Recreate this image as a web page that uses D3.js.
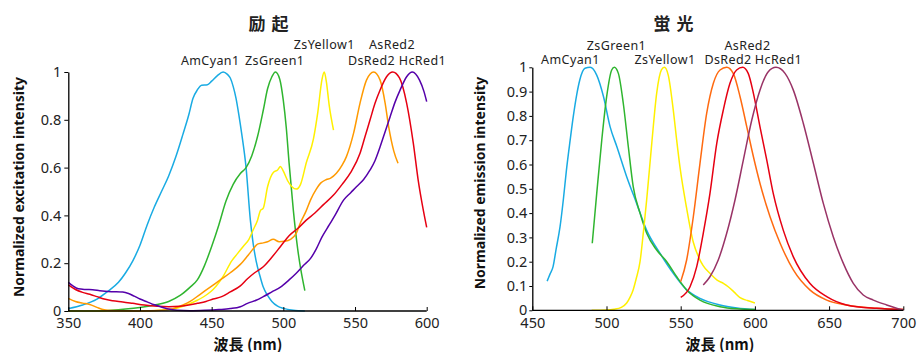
<!DOCTYPE html>
<html>
<head>
<meta charset="utf-8">
<script src="https://cdn.jsdelivr.net/npm/d3@7"></script>
<style>
html,body{margin:0;padding:0;background:#fff;}
svg{display:block;}
text{font-family:"Noto Sans","Open Sans",sans-serif;}
.cjk{font-family:"Noto Sans CJK JP","Noto Sans",sans-serif;}
</style>
</head>
<body>
<svg id="chart" width="923" height="352"></svg>
<script>
// ---------- Data ----------
const proteins = ["AmCyan1","ZsGreen1","ZsYellow1","DsRed2","AsRed2","HcRed1"];
const excitationColors = ["#19ABE3","#2FB52F","#FFF000","#FF9A00","#E60012","#5500AA"];
const emissionColors   = ["#19ABE3","#2FB52F","#FFF000","#FF6A10","#E60012","#993366"];

// Excitation spectra: [wavelength nm, normalized intensity]
const exAmCyan1 = [[350,0.01],[360,0.025],[370,0.05],[377,0.08],[385,0.12],[390,0.16],[395,0.21],[400,0.275],[405,0.36],[410,0.435],[415,0.50],[420,0.565],[425,0.645],[430,0.74],[434,0.82],[437,0.89],[440,0.925],[443,0.945],[447,0.947],[450,0.962],[454,0.985],[458,1.0],[461,0.99],[463,0.975],[465,0.94],[467,0.89],[469,0.82],[471,0.74],[474,0.60],[477,0.38],[479,0.28],[481,0.21],[484,0.14],[486,0.10],[489,0.065],[492,0.04],[496,0.02],[500,0.011],[507,0.003],[515,0.0]];
const exZsGreen1 = [[350,0.0],[370,0.0],[380,0.003],[390,0.008],[400,0.015],[410,0.025],[420,0.04],[428,0.065],[435,0.10],[440,0.13],[445,0.19],[450,0.27],[455,0.36],[460,0.46],[465,0.53],[470,0.575],[474,0.60],[478,0.65],[482,0.73],[486,0.84],[489,0.93],[492,0.98],[494.5,1.0],[497.5,0.97],[500,0.88],[502,0.77],[504,0.62],[507,0.42],[510,0.26],[512,0.18],[515,0.085]];
const exZsYellow1 = [[350,0.0],[380,0.0],[400,0.0],[420,0.005],[430,0.02],[440,0.045],[447,0.07],[451,0.09],[458,0.145],[464,0.21],[468,0.24],[472,0.27],[476,0.30],[479,0.34],[482,0.38],[484,0.42],[486,0.43],[489,0.52],[493,0.58],[496,0.59],[498,0.605],[500,0.585],[503,0.545],[506,0.52],[509,0.51],[512,0.53],[516,0.62],[521,0.72],[524,0.83],[527,0.97],[528.5,1.0],[530,0.96],[532,0.86],[535,0.757]];
const exDsRed2 = [[350,0.053],[355,0.04],[360,0.033],[365,0.027],[370,0.015],[375,0.005],[380,0.002],[400,0.0],[415,0.003],[423,0.01],[430,0.025],[435,0.04],[442,0.07],[449,0.10],[456,0.13],[463,0.16],[470,0.195],[475,0.23],[479,0.26],[482,0.28],[486,0.285],[489,0.29],[493,0.30],[497,0.29],[501,0.292],[505,0.30],[509,0.325],[512,0.37],[516,0.42],[519,0.465],[523,0.51],[526,0.535],[530,0.55],[533,0.556],[537,0.576],[541,0.61],[544,0.646],[549,0.744],[553.5,0.87],[558,0.966],[563,1.0],[567.5,0.966],[571,0.87],[573.5,0.77],[577,0.67],[580,0.618]];
const exAsRed2 = [[350,0.109],[355,0.09],[360,0.078],[365,0.07],[370,0.06],[375,0.05],[381,0.043],[388,0.038],[395,0.032],[403,0.025],[412,0.02],[420,0.018],[428,0.02],[435,0.026],[440,0.032],[446,0.04],[451,0.05],[457,0.06],[463,0.08],[470,0.105],[475,0.135],[480,0.16],[486,0.185],[492,0.225],[498,0.27],[504,0.315],[510,0.345],[516,0.38],[522,0.41],[528,0.445],[535,0.485],[541,0.53],[547,0.58],[553.5,0.66],[557,0.73],[560.5,0.80],[564,0.87],[567.5,0.925],[572,0.98],[576.3,1.0],[581,0.975],[586,0.87],[590.7,0.70],[594,0.55],[597.7,0.42],[600,0.35]];
const exHcRed1 = [[350,0.12],[353,0.106],[357,0.093],[362,0.09],[367,0.089],[372,0.085],[380,0.081],[388,0.079],[392,0.073],[396,0.062],[400,0.05],[405,0.038],[410,0.026],[416,0.015],[420,0.008],[426,0.003],[435,0.001],[446,0.003],[455,0.006],[463,0.01],[470,0.018],[475,0.032],[481,0.045],[486,0.06],[492,0.08],[498,0.10],[504,0.13],[509,0.158],[514,0.19],[519,0.22],[523,0.26],[527,0.31],[532,0.36],[536,0.40],[542,0.464],[547,0.495],[551,0.52],[556,0.55],[560.5,0.59],[564,0.63],[567.5,0.687],[571,0.75],[574.5,0.813],[578,0.875],[581.5,0.925],[586,0.98],[590,1.0],[595,0.966],[598,0.92],[600,0.876]];

// Emission spectra
const emAmCyan1 = [[460,0.12],[462,0.15],[464,0.18],[466,0.25],[468.7,0.344],[471,0.46],[473,0.577],[475.5,0.70],[477.6,0.797],[480,0.89],[482,0.948],[485.5,0.996],[489,1.0],[493.4,0.968],[498,0.879],[502.4,0.756],[507,0.673],[513.6,0.55],[520.3,0.44],[527,0.33],[536,0.235],[545,0.152],[554,0.084],[563,0.049],[576.5,0.022],[588,0.01],[600,0.003]];
const emZsGreen1 = [[490.4,0.276],[493.4,0.48],[496.8,0.70],[500.1,0.879],[503.5,0.989],[505.3,1.0],[508,0.975],[511.3,0.852],[514.7,0.673],[518,0.509],[522.6,0.40],[527.1,0.317],[533.8,0.248],[540.6,0.20],[547.3,0.138],[554,0.084],[563,0.042],[576.5,0.015],[588,0.006],[600,0.003]];
const emZsYellow1 = [[490,0.0],[500,0.001],[505,0.004],[510,0.012],[513.6,0.03],[516,0.055],[518,0.085],[520,0.13],[522.6,0.20],[525,0.33],[527,0.45],[530.5,0.687],[533.8,0.893],[537,0.989],[539,1.0],[541.6,0.968],[545,0.824],[547.3,0.70],[549.5,0.59],[554,0.42],[558.5,0.28],[562,0.22],[565,0.185],[570,0.15],[574.3,0.125],[579,0.11],[582,0.097],[586,0.075],[590,0.052],[595,0.04],[600,0.03]];
const emDsRed2 = [[550,0.118],[554,0.207],[558.5,0.385],[563,0.605],[567.5,0.81],[572,0.934],[576.5,0.989],[581,1.0],[585.4,0.975],[590,0.879],[594.5,0.756],[599,0.632],[603.4,0.523],[610.2,0.385],[617,0.276],[625.9,0.166],[637,0.084],[648.4,0.042],[661.8,0.022],[682,0.008],[700,0.003]];
const emAsRed2 = [[550,0.053],[556.3,0.097],[560.8,0.18],[565.2,0.317],[569.7,0.48],[574.3,0.687],[578.7,0.824],[583.2,0.934],[587.7,0.989],[591.8,1.0],[595.5,0.975],[599,0.893],[603.4,0.756],[608,0.618],[612.4,0.48],[619.1,0.33],[625.9,0.22],[637,0.111],[648.4,0.056],[661.8,0.022],[682,0.008],[700,0.003]];
const emHcRed1 = [[565.2,0.104],[569.7,0.138],[575.3,0.207],[581,0.317],[586.6,0.454],[592.2,0.618],[597.9,0.783],[603.4,0.906],[609,0.982],[614.2,1.0],[620.3,0.975],[625.9,0.906],[632.6,0.77],[639.4,0.605],[646.1,0.44],[652.8,0.303],[659.6,0.193],[666.3,0.111],[673,0.063],[679.8,0.042],[688.8,0.022],[700,0.0]];

const excitationSeries = [exAmCyan1, exZsGreen1, exZsYellow1, exDsRed2, exAsRed2, exHcRed1];
const emissionSeries   = [emAmCyan1, emZsGreen1, emZsYellow1, emDsRed2, emAsRed2, emHcRed1];

// Label anchor wavelength and row (0 = lower row, 1 = upper row)
const exLabelX = [449, 494, 528.5, 561.5, 575.8, 597];
const exLabelRow = [0,0,1,0,1,0];
const emLabelX = [475.7, 506.7, 539.4, 581.9, 595, 615.9];
const emLabelRow = [0,1,0,0,1,0];

const exXTicks = [350,400,450,500,550,600];
const exYTicks = [0,0.2,0.4,0.6,0.8,1];
const exYTickLabels = ["0","0.2","0.4","0.6","0.8","1"];
const emXTicks = [450,500,550,600,650,700];
const emYTicks = [0,0.1,0.2,0.3,0.4,0.5,0.6,0.7,0.8,0.9,1];
const emYTickLabels = ["0","0.1","0.2","0.3","0.4","0.5","0.6","0.7","0.8","0.9","1"];

const titles = ["励 起","蛍 光"];
const yTitles = ["Normalized excitation intensity","Normalized emission intensity"];
const xTitle = "波長 (nm)";

// ---------- Drawing ----------
const svg = d3.select("#chart");

function panel(cfg){
  const g = svg.append("g");
  const x = d3.scaleLinear().domain(cfg.xDomain).range(cfg.xRange);
  const y = d3.scaleLinear().domain([0,1]).range(cfg.yRange);

  // curves
  const line = d3.line().x(d=>x(d[0])).y(d=>y(d[1])).curve(d3.curveMonotoneX);
  cfg.series.forEach((s,i)=>{
    g.append("path").datum(s).attr("d",line)
      .attr("fill","none").attr("stroke",cfg.colors[i]).attr("stroke-width",1.5)
      .attr("stroke-linejoin","round");
  });

  // axes
  const xa = d3.axisBottom(x).tickValues(cfg.xTicks).tickFormat(d3.format("d"))
      .tickSizeInner(-4).tickSizeOuter(0).tickPadding(7);
  const ya = d3.axisLeft(y).tickValues(cfg.yTicks).tickFormat((d,i)=>cfg.yTickLabels[i])
      .tickSizeInner(cfg.yTickSize).tickSizeOuter(0).tickPadding(cfg.yTickPad);
  const gx = g.append("g").attr("transform",`translate(0,${cfg.yRange[0]})`).call(xa);
  const gy = g.append("g").attr("transform",`translate(${cfg.xRange[0]},0)`).call(ya);
  [gx,gy].forEach(a=>{
    a.select(".domain").attr("stroke","#000").attr("stroke-width",1.3);
    a.selectAll(".tick line").attr("stroke","#000").attr("stroke-width",1);
    a.selectAll("text").attr("font-size",14.5).attr("fill","#222")
      .attr("font-family","'Noto Sans',sans-serif");
  });
  gx.select(".domain").attr("d",`M${cfg.xRange[0]},0H${cfg.xRange[1]}`);

  // curve labels
  cfg.labelX.forEach((lx,i)=>{
    g.append("text").attr("x",x(lx)).attr("y",cfg.labelRowY[cfg.labelRow[i]])
      .attr("text-anchor","middle").attr("font-size",12.5).attr("letter-spacing",0.4)
      .attr("fill","#222").text(proteins[i]);
  });

  // title
  g.append("text").attr("class","cjk").attr("x",cfg.titleX).attr("y",30)
    .attr("text-anchor","middle").attr("font-size",17).attr("font-weight","bold")
    .attr("letter-spacing",1).attr("fill","#222").text(cfg.title);

  // x title
  g.append("text").attr("class","cjk").attr("x",cfg.xTitleX).attr("y",350)
    .attr("text-anchor","middle").attr("font-size",15).attr("font-weight","bold")
    .attr("fill","#111").text(xTitle);

  // y title
  g.append("text").attr("transform",`translate(${cfg.yTitleX},${cfg.yTitleY}) rotate(-90)`)
    .attr("text-anchor","middle").attr("font-size",14).attr("font-weight","bold")
    .attr("fill","#111").text(cfg.yTitle);
}

panel({
  xDomain:[350,600], xRange:[68.3,426.7], yRange:[311,72],
  series: excitationSeries, colors: excitationColors,
  xTicks: exXTicks, yTicks: exYTicks, yTickLabels: exYTickLabels,
  yTickSize:4, yTickPad:3,
  labelX: exLabelX, labelRow: exLabelRow, labelRowY:[65,49],
  title: titles[0], titleX: 269,
  xTitleX: 248, yTitle: yTitles[0], yTitleX: 24, yTitleY: 187
});

panel({
  xDomain:[450,700], xRange:[532.3,903.3], yRange:[310.3,67.3],
  series: emissionSeries, colors: emissionColors,
  xTicks: emXTicks, yTicks: emYTicks, yTickLabels: emYTickLabels,
  yTickSize:3, yTickPad:2,
  labelX: emLabelX, labelRow: emLabelRow, labelRowY:[64,50],
  title: titles[1], titleX: 674,
  xTitleX: 720, yTitle: yTitles[1], yTitleX: 485, yTitleY: 183
});
</script>
</body>
</html>
